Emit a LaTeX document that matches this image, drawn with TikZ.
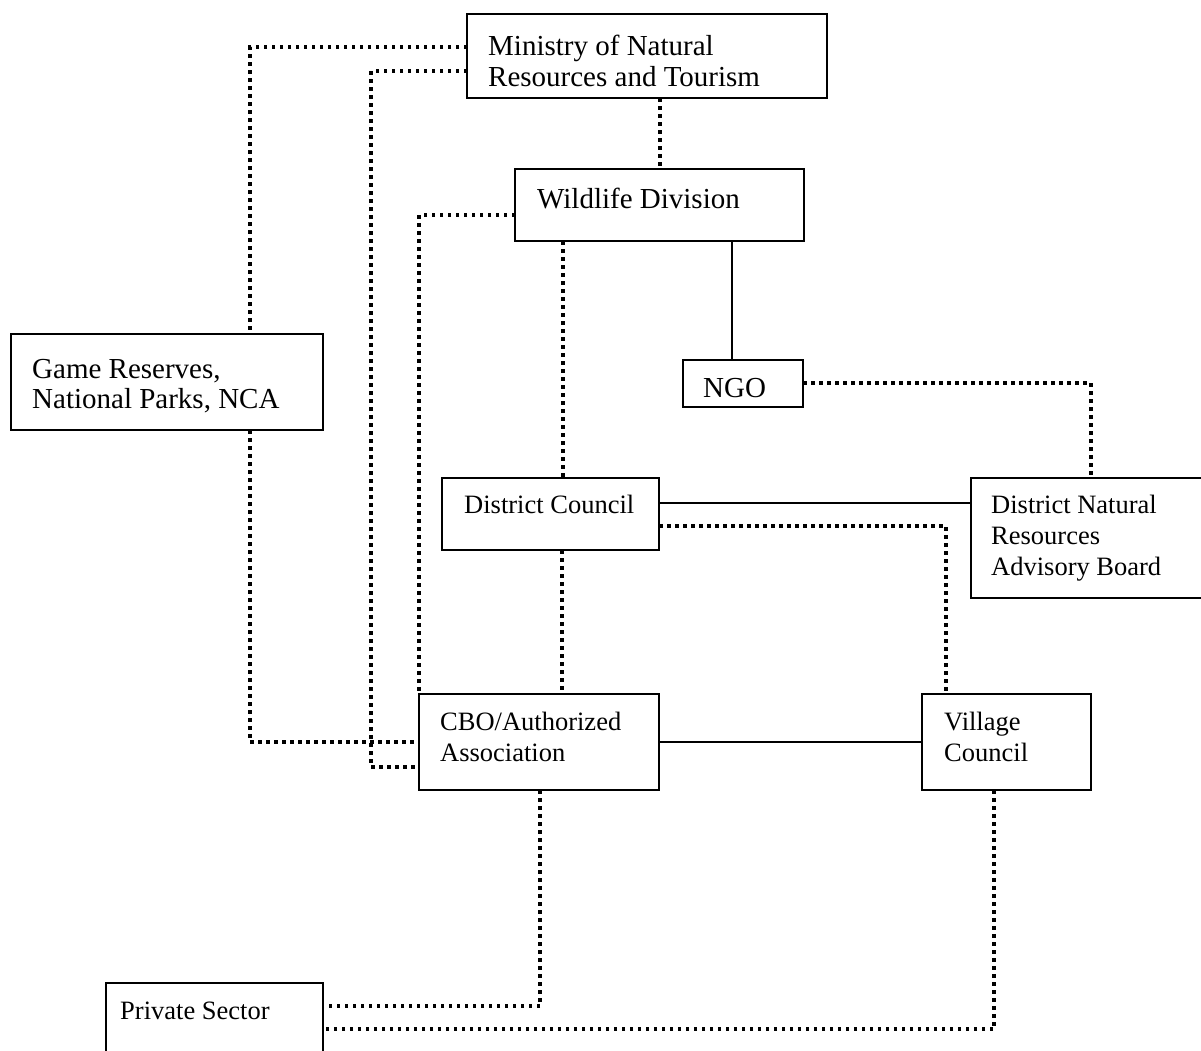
\documentclass[tikz,border=0pt]{standalone}
\usepackage{fontspec}
\setmainfont{Liberation Serif}
\begin{document}
\begin{tikzpicture}[x=1pt,y=-1pt,
  box/.style={draw,line width=1.8pt,rectangle,anchor=north west,inner sep=0pt,outer sep=0pt},
  big/.style={anchor=base west,inner sep=0pt,font=\fontsize{29}{31}\selectfont},
  small/.style={anchor=base west,inner sep=0pt,font=\fontsize{26.5}{30}\selectfont},
  dotline/.style={line width=4pt,dash pattern=on 3.5pt off 4.5pt},
  solidline/.style={line width=1.8pt}]
\useasboundingbox (0,0) rectangle (1201,1050);
\clip (0,0) rectangle (1201,1050);
% boxes
\node[box,minimum width=360,minimum height=84] (min) at (467,14) {};
\node[box,minimum width=289,minimum height=72] (wd) at (515,169) {};
\node[box,minimum width=312,minimum height=96] (gr) at (11,334) {};
\node[box,minimum width=120,minimum height=47] (ngo) at (683,360) {};
\node[box,minimum width=217,minimum height=72] (dc) at (442,478) {};
\node[box,minimum width=260,minimum height=120] (dnrab) at (971,478) {};
\node[box,minimum width=240,minimum height=96] (cbo) at (419,694) {};
\node[box,minimum width=169,minimum height=96] (vc) at (922,694) {};
\node[box,minimum width=217,minimum height=100] (ps) at (106,983) {};
% texts
\node[big] (min-t1) at (488,55) {Ministry of Natural};
\node[big] (min-t2) at (488,86.7) {Resources and Tourism};
\node[big] (wd-t) at (537,208) {Wildlife Division};
\node[big] (gr-t1) at (32,378) {Game Reserves,};
\node[big] (gr-t2) at (32,408) {National Parks, NCA};
\node[big] (ngo-t) at (703,397) {NGO};
\node[small] (dc-t) at (464,513) {District Council};
\node[small] (dnrab-t1) at (991,513) {District Natural};
\node[small] (dnrab-t2) at (991,544) {Resources};
\node[small] (dnrab-t3) at (991,575) {Advisory Board};
\node[small] (cbo-t1) at (440,730) {CBO/Authorized};
\node[small] (cbo-t2) at (440,761) {Association};
\node[small] (vc-t1) at (944,730) {Village};
\node[small] (vc-t2) at (944,761) {Council};
\node[small] (ps-t) at (120,1019) {Private Sector};
% bend coordinate
\coordinate (b3) at (371,400);
% connectors
\draw[dotline] ([yshift=-33]min.north west) -| ([xshift=239]gr.north west);
\draw[dotline] ([xshift=239]gr.south west) |- ([yshift=-48]cbo.north west);
\draw[dotline] ([yshift=-57]min.north west) -| (b3) |- ([yshift=-73]cbo.north west);
\draw[dotline] ([xshift=193]min.south west) -- ([xshift=193]min.south west |- wd.north);
\draw[dotline] ([yshift=-46]wd.north west) -| (cbo.north west);
\draw[dotline] ([xshift=48]wd.south west) -- ([xshift=48]wd.south west |- dc.north);
\draw[solidline] ([xshift=217]wd.south west) -- ([xshift=217]wd.south west |- ngo.north);
\draw[dotline] ([yshift=-23]ngo.north east) -| ([xshift=120]dnrab.north west);
\draw[solidline] ([yshift=-25]dc.north east) -- ([yshift=-25]dc.north east -| dnrab.west);
\draw[dotline] ([yshift=-48]dc.north east) -| ([xshift=24]vc.north west);
\draw[dotline] ([xshift=120]dc.south west) -- ([xshift=120]dc.south west |- cbo.north);
\draw[solidline] ([yshift=-48]cbo.north east) -- ([yshift=-48]cbo.north east -| vc.west);
\draw[dotline] ([xshift=121]cbo.south west) |- ([yshift=-23]ps.north east);
\draw[dotline] ([xshift=72]vc.south west) |- ([yshift=-46]ps.north east);
\end{tikzpicture}
\end{document}
